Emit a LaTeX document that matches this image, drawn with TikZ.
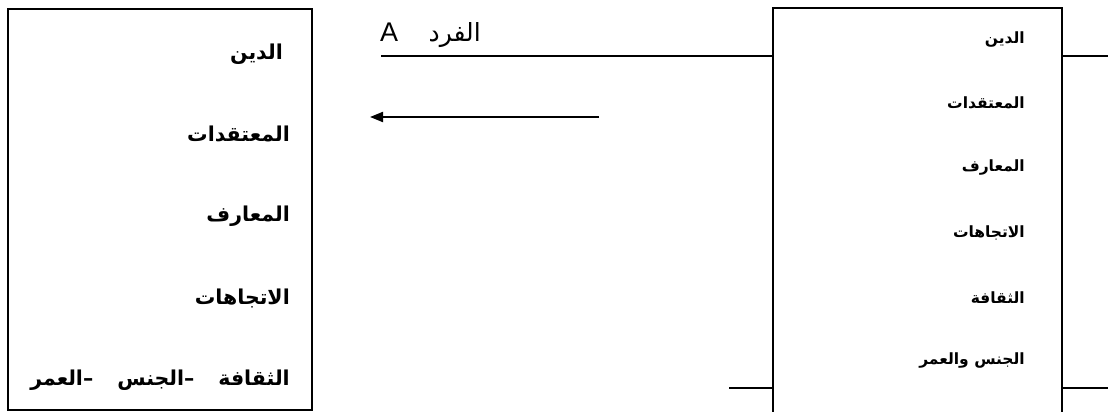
\documentclass[tikz,border=0pt]{standalone}
\usepackage{fontspec}
\setmainfont{Liberation Sans}
\newfontfamily\arabicfont[Script=Arabic]{DejaVu Sans}
\TeXXeTstate=1
\usetikzlibrary{arrows.meta}
\tikzset{
  frame/.style={line width=1.8pt, draw=black},
  conn/.style={line width=2pt, draw=black},
  lefttxt/.style={anchor=east, inner sep=0pt, font=\arabicfont\bfseries\fontsize{20.5}{24}\selectfont},
  righttxt/.style={anchor=east, inner sep=0pt, font=\arabicfont\bfseries\fontsize{15.5}{18}\selectfont},
}
\begin{document}
\begin{tikzpicture}[x=1pt,y=-1pt]
\useasboundingbox (0,0) rectangle (1108,412);
% left box
\node[frame, rectangle, minimum width=304pt, minimum height=401pt, anchor=north west, inner sep=0pt] (lbox) at (7,8) {};
\node[lefttxt] (l1) at (283,54) {\beginR الدين\endR};
\node[lefttxt] (l2) at (290,134) {\beginR المعتقدات\endR};
\node[lefttxt] (l3) at (290,216) {\beginR المعارف\endR};
\node[lefttxt] (l4) at (290,298) {\beginR الاتجاهات\endR};
\node[lefttxt] (l5) at (290,380) {\beginR الثقافة\hspace{24pt}–الجنس\hspace{24pt}–العمر\endR};
% right box (open at bottom)
\coordinate (rbl) at (773,412);
\coordinate (rtl) at (773,8);
\coordinate (rtr) at (1062,8);
\coordinate (rbr) at (1062,412);
\draw[frame] (rbl) -- (rtl) -- (rtr) -- (rbr);
\coordinate (rl1) at (773,56);
\coordinate (rr1) at (1062,56);
\coordinate (rl2) at (773,388);
\coordinate (rr2) at (1062,388);
\coordinate (topstart) at (381,56);
\coordinate (topend) at (1108,56);
\coordinate (botstart) at (729,388);
\coordinate (botend) at (1108,388);
\draw[conn] (topstart) -- (rl1);
\draw[conn] (rr1) -- (topend);
\draw[conn] (botstart) -- (rl2);
\draw[conn] (rr2) -- (botend);
\node[righttxt] (r1) at (1025,40) {\beginR الدين\endR};
\node[righttxt] (r2) at (1025,103) {\beginR المعتقدات\endR};
\node[righttxt] (r3) at (1025,168) {\beginR المعارف\endR};
\node[righttxt] (r4) at (1025,233) {\beginR الاتجاهات\endR};
\node[righttxt] (r5) at (1025,298) {\beginR الثقافة\endR};
\node[righttxt] (r6) at (1025,361) {\beginR الجنس والعمر\endR};
% title
\node[anchor=base west, inner sep=0pt, font=\fontsize{27}{30}\selectfont] (tA) at (380,42) {A};
\node[anchor=base east, inner sep=0pt, font=\arabicfont\fontsize{25}{30}\selectfont] (tF) at (481,42) {\beginR الفرد\endR};
% arrow
\coordinate (as) at (599,117);
\coordinate (ae) at (370,117);
\draw[conn, -{Triangle[length=13pt,width=10pt]}] (as) -- (ae);
\end{tikzpicture}
\end{document}
